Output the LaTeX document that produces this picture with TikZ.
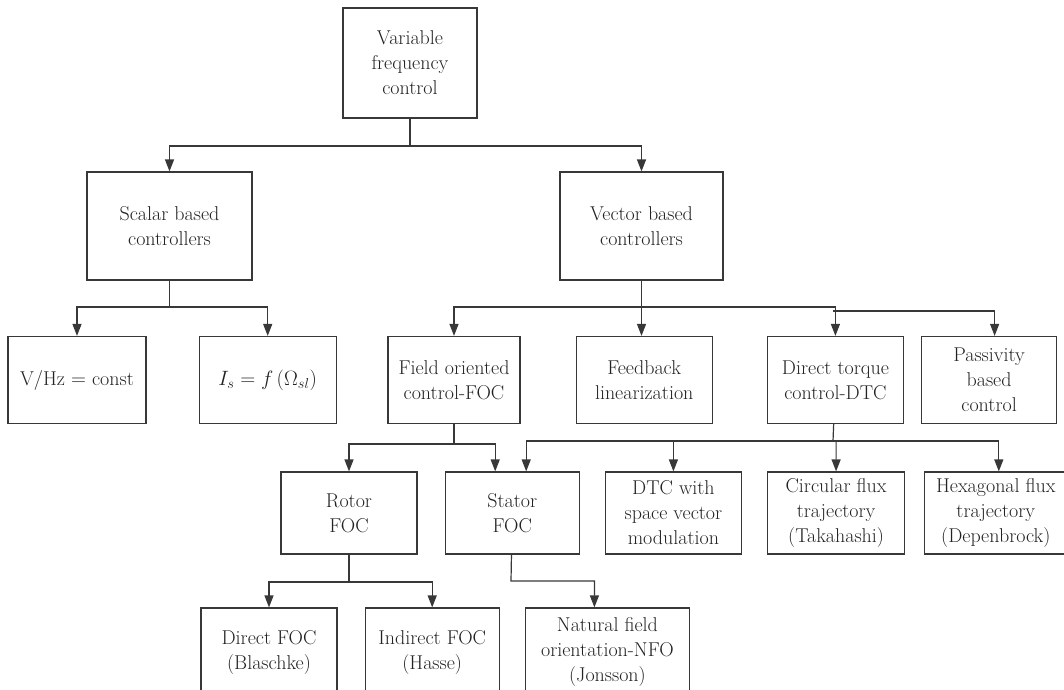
\documentclass[tikz,border=0pt]{standalone}
\usepackage{amsmath}
\usetikzlibrary{arrows.meta, positioning}
\definecolor{ink}{HTML}{383838}
\definecolor{txt}{HTML}{222222}

\begin{document}
\begin{tikzpicture}[x=1pt, y=-1pt, >={Triangle[width=9pt,length=12pt]},
  cbox/.style={draw=ink, line width=1.2pt, align=center, inner sep=0pt, text=txt, font=\fontsize{20}{25}\selectfont},
  link/.style={draw=ink, line width=1.2pt, ->}]
\useasboundingbox (0,0) rectangle (1064,689);
\clip (0,0) rectangle (1064,689);

\node[cbox, minimum width=134pt, minimum height=110pt] (vfc) at (410,63) {Variable\\frequency\\control};
\node[cbox, minimum width=165pt, minimum height=108pt] (scalar) at (169.5,226) {Scalar based\\controllers};
\node[cbox, minimum width=163pt, minimum height=108pt] (vector) at (641.5,226) {Vector based\\controllers};

\node[cbox, minimum width=138pt, minimum height=87pt] (vhz) at (77,380) {V/Hz $=$ const};
\node[cbox, minimum width=137pt, minimum height=87pt, right=52pt of vhz] (isf) {$I_s = f\,(\Omega_{sl})$};
\node[cbox, minimum width=132pt, minimum height=87pt] (foc) at (454,380) {Field oriented\\control-FOC};
\node[cbox, minimum width=136pt, minimum height=87pt, right=55pt of foc] (fbl) {Feedback\\linearization};
\node[cbox, minimum width=136pt, minimum height=87pt, right=54pt of fbl] (dtc) {Direct torque\\control-DTC};
\node[cbox, minimum width=135pt, minimum height=87pt, right=17pt of dtc] (pbc) {Passivity\\based\\control};

\node[cbox, minimum width=136pt, minimum height=82pt] (rotor) at (349,513) {Rotor\\FOC};
\node[cbox, minimum width=134pt, minimum height=82pt, right=27pt of rotor] (stator) {Stator\\FOC};
\node[cbox, minimum width=136pt, minimum height=82pt, right=25pt of stator] (svm) {DTC with\\space vector\\modulation};
\node[cbox, minimum width=137pt, minimum height=82pt, right=25pt of svm] (circ) {Circular flux\\trajectory\\(Takahashi)};
\node[cbox, minimum width=142pt, minimum height=82pt, right=19pt of circ] (hexa) {Hexagonal flux\\trajectory\\(Depenbrock)};

\node[cbox, minimum width=136pt, minimum height=88pt] (dfoc) at (269,652) {Direct FOC\\(Blaschke)};
\node[cbox, minimum width=134pt, minimum height=88pt, right=27pt of dfoc] (ifoc) {Indirect FOC\\(Hasse)};
\node[cbox, minimum width=164pt, minimum height=88pt, right=25pt of ifoc] (nfo) {Natural field\\orientation-NFO\\(Jonsson)};

\coordinate (jtop) at (410,146);
\coordinate (jsc) at (169.5,307);
\coordinate (jve) at (641.5,307);
\coordinate (jpa) at (833,311);
\coordinate (jfo) at (454,444);
\coordinate (jdc) at (833,441);
\coordinate (jro) at (349,582);
\coordinate (jst) at (511,581);

\draw[link] (vfc) -- (jtop) -| (scalar);
\draw[link] (jtop) -| (vector);
\draw[link] (scalar) -- (jsc) -| (vhz);
\draw[link] (jsc) -| (isf);
\draw[link] (vector.south) -- (vector.south |- fbl.north);
\draw[link] (jve) -| (foc);
\draw[link] (jve) -| (dtc);
\draw[link] (jpa) -| ([xshift=5.5pt]pbc.north);
\draw[link] (foc) -- (jfo) -| (rotor);
\draw[link] (jfo) -| ([xshift=-17pt]stator.north);
\draw[link] (dtc) -- (jdc) -| (circ);
\draw[link] (jdc) -| ([xshift=14pt]stator.north);
\draw[link] (jdc) -| (svm);
\draw[link] (jdc) -| ([xshift=3pt]hexa.north);
\draw[link] (rotor) -- (jro) -| (dfoc);
\draw[link] (jro) -| (ifoc);
\draw[link] (stator) -- (jst) -| ([xshift=-13pt]nfo.north);
\end{tikzpicture}
\end{document}
